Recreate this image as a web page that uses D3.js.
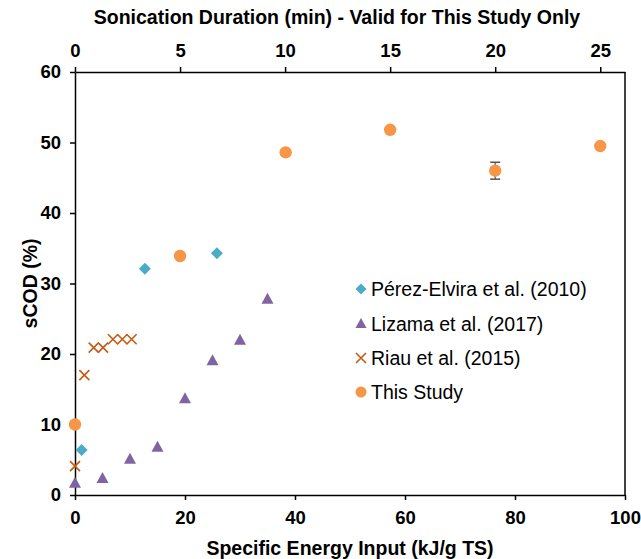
<!DOCTYPE html>
<html><head><meta charset="utf-8">
<script src="https://cdn.jsdelivr.net/npm/d3@7"></script>
<style>body{margin:0;background:#fff}svg{display:block}text{font-family:"Liberation Sans",Arial,sans-serif}</style>
</head><body><svg id="c" width="641" height="559"></svg>
<script>
// Data
const thisStudyX = [0, 19.1, 38.3, 57.3, 76.4, 95.5];
const thisStudyY = [10.0, 33.9, 48.6, 51.8, 46.0, 49.5];
const thisStudyErr = [0, 0, 0, 0, 1.2, 0];
const perezX = [1.2, 12.7, 25.8];
const perezY = [6.4, 32.1, 34.3];
const lizamaX = [0, 5, 10, 15, 20, 25, 30, 35];
const lizamaY = [1.8, 2.5, 5.2, 6.9, 13.8, 19.2, 22.1, 27.9];
const riauX = [0, 1.7, 3.4, 5.1, 6.9, 8.6, 10.3];
const riauY = [4.1, 17.0, 20.9, 20.9, 22.1, 22.1, 22.1];
const xTicks = [0, 20, 40, 60, 80, 100];
const yTicks = [0, 10, 20, 30, 40, 50, 60];
const topTicks = [0, 5, 10, 15, 20, 25];
const minToEnergy = 3.82;
const legendLabels = ["Pérez-Elvira et al. (2010)", "Lizama et al. (2017)", "Riau et al. (2015)", "This Study"];

const colors = {perez:"#4BACC6", lizama:"#8064A2", riau:"#C55A11", study:"#F79646"};
const svg = d3.select("#c");
const L=75, R=625, T=72, B=495;
const x = d3.scaleLinear().domain([0,100]).range([L,R]);
const xTop = d3.scaleLinear().domain([0,100/minToEnergy]).range([L,R]);
const y = d3.scaleLinear().domain([0,60]).range([B,T]);

const axisStyle = g => {
  g.select(".domain").attr("stroke","#000").attr("stroke-width",1.5);
  g.selectAll(".tick line").attr("stroke","#000").attr("stroke-width",1.5);
  g.selectAll(".tick text").attr("font-size",18.5).attr("font-weight","bold").attr("fill","#000")
   .attr("font-family",'"Liberation Sans",Arial,sans-serif');
};
svg.append("g").attr("transform",`translate(0,${B})`)
  .call(d3.axisBottom(x).tickValues(xTicks).tickSize(5).tickPadding(11).tickSizeOuter(0))
  .call(axisStyle);
svg.append("g").attr("transform",`translate(0,${T})`)
  .call(d3.axisTop(xTop).tickValues(topTicks).tickSize(5).tickPadding(10).tickSizeOuter(0))
  .call(axisStyle);
svg.append("g").attr("transform",`translate(${L},0)`)
  .call(d3.axisLeft(y).tickValues(yTicks).tickSize(5).tickPadding(9).tickSizeOuter(0))
  .call(axisStyle);
svg.append("line").attr("x1",R).attr("x2",R).attr("y1",T).attr("y2",B)
  .attr("stroke","#000").attr("stroke-width",1.5);

// titles
svg.append("text").attr("x",337).attr("y",24).attr("text-anchor","middle")
  .attr("font-size",19.5).attr("font-weight","bold").text("Sonication Duration (min) - Valid for This Study Only");
svg.append("text").attr("x",(L+R)/2).attr("y",555).attr("text-anchor","middle")
  .attr("font-size",19.5).attr("font-weight","bold").text("Specific Energy Input (kJ/g TS)");
svg.append("text").attr("transform",`translate(37,${(T+B)/2}) rotate(-90)`).attr("text-anchor","middle")
  .attr("font-size",19.5).attr("font-weight","bold").text("sCOD (%)");

// marker shapes
const diamond = (g, cx, cy, s) => g.append("path")
  .attr("d",`M${cx},${cy-s}L${cx+s},${cy}L${cx},${cy+s}L${cx-s},${cy}Z`).attr("fill",colors.perez);
const tri = (g, cx, cy, w, h) => g.append("path")
  .attr("d",`M${cx},${cy-h/2}L${cx+w/2},${cy+h/2}L${cx-w/2},${cy+h/2}Z`).attr("fill",colors.lizama);
const cross = (g, cx, cy, s) => g.append("path")
  .attr("d",`M${cx-s},${cy-s}L${cx+s},${cy+s}M${cx-s},${cy+s}L${cx+s},${cy-s}`)
  .attr("stroke",colors.riau).attr("stroke-width",1.6).attr("fill","none");
const circ = (g, cx, cy, r) => g.append("circle").attr("cx",cx).attr("cy",cy).attr("r",r).attr("fill",colors.study);

const pts = svg.append("g");
lizamaX.forEach((v,i)=>tri(pts, x(v), y(lizamaY[i]), 12, 11));
perezX.forEach((v,i)=>diamond(pts, x(v), y(perezY[i]), 6));
riauX.forEach((v,i)=>cross(pts, x(v), y(riauY[i]), 5));
// error bars
thisStudyX.forEach((v,i)=>{
  const e = thisStudyErr[i]; if(!e) return;
  const cx = x(v), y1 = y(thisStudyY[i]+e), y2 = y(thisStudyY[i]-e);
  pts.append("line").attr("x1",cx).attr("x2",cx).attr("y1",y1).attr("y2",y2).attr("stroke","#555").attr("stroke-width",1.2);
  [y1,y2].forEach(yy=>pts.append("line").attr("x1",cx-5).attr("x2",cx+5).attr("y1",yy).attr("y2",yy).attr("stroke","#555").attr("stroke-width",1.5));
});
thisStudyX.forEach((v,i)=>circ(pts, x(v), y(thisStudyY[i]), 6.2));

// legend
const lg = svg.append("g");
const rowsY = [289, 324, 358, 392];
diamond(lg, 361, rowsY[0], 5.5);
tri(lg, 361, rowsY[1]-1, 11, 10);
cross(lg, 361, rowsY[2], 5);
circ(lg, 361, rowsY[3], 5.5);
legendLabels.forEach((t,i)=>lg.append("text").attr("x",371).attr("y",rowsY[i]+7)
  .attr("font-size",19.5).attr("fill","#000").text(t));
</script></body></html>
